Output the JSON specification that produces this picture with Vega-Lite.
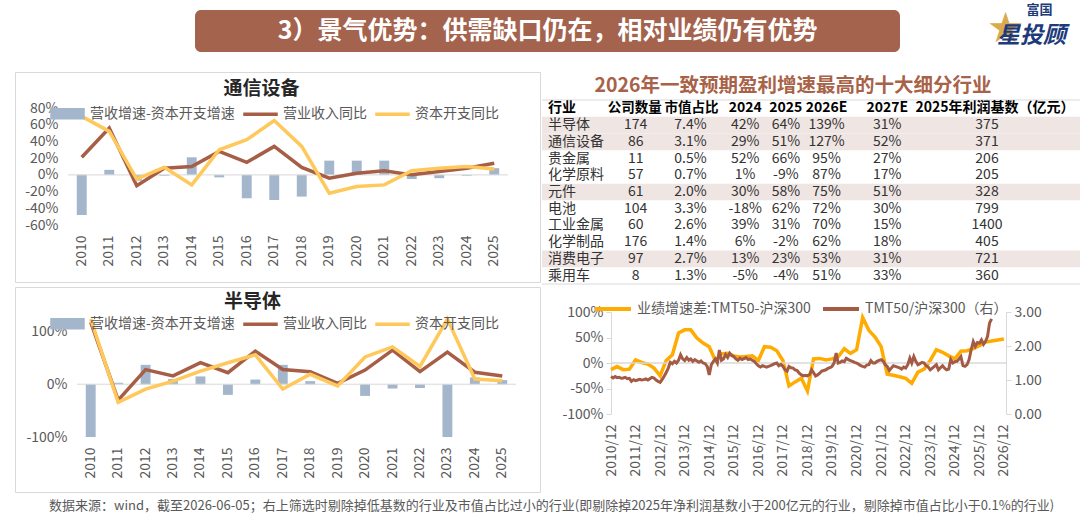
{
"$schema":"https://vega.github.io/schema/vega-lite/v6.json",
"padding":0,
"background":"white",
"spacing":0,
"resolve":{"scale":{"color":"independent"},"legend":{"color":"independent"}},
"datasets":{
"comm":[
{"year":"2010","rev":21,"capex":70,"diff":-48},
{"year":"2011","rev":56,"capex":52,"diff":6},
{"year":"2012","rev":-13,"capex":-5,"diff":-7},
{"year":"2013","rev":8,"capex":9,"diff":-1},
{"year":"2014","rev":10,"capex":-12,"diff":21},
{"year":"2015","rev":28,"capex":30,"diff":-3},
{"year":"2016","rev":15,"capex":42,"diff":-28},
{"year":"2017","rev":34,"capex":65,"diff":-30},
{"year":"2018","rev":9,"capex":34,"diff":-26},
{"year":"2019","rev":-4,"capex":-22,"diff":17},
{"year":"2020","rev":2,"capex":-14,"diff":17},
{"year":"2021","rev":5,"capex":-12,"diff":17},
{"year":"2022","rev":0,"capex":5,"diff":-5},
{"year":"2023","rev":4,"capex":8,"diff":-4},
{"year":"2024","rev":8,"capex":10,"diff":-1},
{"year":"2025","rev":14,"capex":7,"diff":8}],
"semi":[
{"year":"2010","rev":118,"capex":296,"diff":-178},
{"year":"2011","rev":-30,"capex":-34,"diff":3},
{"year":"2012","rev":28,"capex":-9,"diff":37},
{"year":"2013","rev":16,"capex":6,"diff":10},
{"year":"2014","rev":41,"capex":25,"diff":15},
{"year":"2015","rev":22,"capex":41,"diff":-20},
{"year":"2016","rev":63,"capex":56,"diff":9},
{"year":"2017","rev":28,"capex":-9,"diff":37},
{"year":"2018","rev":24,"capex":19,"diff":6},
{"year":"2019","rev":2,"capex":-3,"diff":5},
{"year":"2020","rev":27,"capex":52,"diff":-22},
{"year":"2021","rev":65,"capex":71,"diff":-8},
{"year":"2022","rev":24,"capex":34,"diff":-7},
{"year":"2023","rev":61,"capex":280,"diff":-219},
{"year":"2024","rev":23,"capex":10,"diff":13},
{"year":"2025","rev":16,"capex":7,"diff":8}],
"tbl":[
{"ind":"半导体","n":"174","mv":"7.4%","a":"42%","b":"64%","c":"139%","e":"31%","base":"375","shade":true},
{"ind":"通信设备","n":"86","mv":"3.1%","a":"29%","b":"51%","c":"127%","e":"52%","base":"371","shade":true},
{"ind":"贵金属","n":"11","mv":"0.5%","a":"52%","b":"66%","c":"95%","e":"27%","base":"206","shade":false},
{"ind":"化学原料","n":"57","mv":"0.7%","a":"1%","b":"-9%","c":"87%","e":"17%","base":"205","shade":false},
{"ind":"元件","n":"61","mv":"2.0%","a":"30%","b":"58%","c":"75%","e":"51%","base":"328","shade":true},
{"ind":"电池","n":"104","mv":"3.3%","a":"-18%","b":"62%","c":"72%","e":"30%","base":"799","shade":false},
{"ind":"工业金属","n":"60","mv":"2.6%","a":"39%","b":"31%","c":"70%","e":"15%","base":"1400","shade":false},
{"ind":"化学制品","n":"176","mv":"1.4%","a":"6%","b":"-2%","c":"62%","e":"18%","base":"405","shade":false},
{"ind":"消费电子","n":"97","mv":"2.7%","a":"13%","b":"23%","c":"53%","e":"31%","base":"721","shade":true},
{"ind":"乘用车","n":"8","mv":"1.3%","a":"-5%","b":"-4%","c":"51%","e":"33%","base":"360","shade":false}],
"tmty":[
{"d":"2010-12-01","v":-13},{"d":"2011-03-01","v":-7},{"d":"2011-06-01","v":-13},{"d":"2011-09-01","v":-12},
{"d":"2011-12-01","v":6},{"d":"2012-03-01","v":1},{"d":"2012-06-01","v":-2},{"d":"2012-09-01","v":-10},
{"d":"2012-12-01","v":-25},{"d":"2013-03-01","v":5},{"d":"2013-06-01","v":16},{"d":"2013-09-01","v":59},
{"d":"2013-12-01","v":65},{"d":"2014-03-01","v":65},{"d":"2014-06-01","v":49},{"d":"2014-09-01","v":39},
{"d":"2014-12-01","v":32},{"d":"2015-03-01","v":5},{"d":"2015-06-01","v":18},{"d":"2015-09-01","v":19},
{"d":"2015-12-01","v":14},{"d":"2016-03-01","v":12},{"d":"2016-06-01","v":13},{"d":"2016-09-01","v":14},
{"d":"2016-12-01","v":5},{"d":"2017-03-01","v":32},{"d":"2017-06-01","v":31},{"d":"2017-09-01","v":24},
{"d":"2017-12-01","v":5},{"d":"2018-03-01","v":-45},{"d":"2018-06-01","v":-37},{"d":"2018-09-01","v":-30},
{"d":"2018-12-01","v":-55},{"d":"2019-03-01","v":8},{"d":"2019-06-01","v":9},{"d":"2019-09-01","v":6},
{"d":"2019-12-01","v":8},{"d":"2020-03-01","v":12},{"d":"2020-06-01","v":28},{"d":"2020-09-01","v":19},
{"d":"2020-12-01","v":26},{"d":"2021-03-01","v":89},{"d":"2021-06-01","v":64},{"d":"2021-09-01","v":51},
{"d":"2021-12-01","v":32},{"d":"2022-03-01","v":-22},{"d":"2022-06-01","v":-24},{"d":"2022-09-01","v":-27},
{"d":"2022-12-01","v":-30},{"d":"2023-03-01","v":-40},{"d":"2023-06-01","v":-18},{"d":"2023-09-01","v":-12},
{"d":"2023-12-01","v":5},{"d":"2024-03-01","v":26},{"d":"2024-06-01","v":21},{"d":"2024-09-01","v":14},
{"d":"2024-12-01","v":8},{"d":"2025-03-01","v":23},{"d":"2025-06-01","v":24},{"d":"2025-09-01","v":28},
{"d":"2025-12-01","v":34},{"d":"2026-03-01","v":41},{"d":"2026-06-01","v":43},{"d":"2026-09-01","v":45},
{"d":"2026-12-01","v":47}],
"tmtb":[
{"d":"2010-12-01","r":1.10},{"d":"2011-01-01","r":1.06},{"d":"2011-02-01","r":1.10},{"d":"2011-03-01","r":1.07},
{"d":"2011-04-01","r":1.08},{"d":"2011-05-01","r":1.05},{"d":"2011-06-01","r":1.06},{"d":"2011-07-01","r":1.08},
{"d":"2011-08-01","r":1.04},{"d":"2011-09-01","r":1.05},{"d":"2011-10-01","r":0.96},{"d":"2011-11-01","r":1.01},
{"d":"2011-12-01","r":0.98},{"d":"2012-01-01","r":1.00},{"d":"2012-02-01","r":1.02},{"d":"2012-03-01","r":1.00},
{"d":"2012-04-01","r":1.01},{"d":"2012-05-01","r":1.03},{"d":"2012-06-01","r":1.00},{"d":"2012-07-01","r":1.04},
{"d":"2012-08-01","r":1.08},{"d":"2012-09-01","r":1.06},{"d":"2012-10-01","r":1.00},{"d":"2012-11-01","r":0.96},
{"d":"2012-12-01","r":0.93},{"d":"2013-01-01","r":1.02},{"d":"2013-02-01","r":1.12},{"d":"2013-03-01","r":1.22},
{"d":"2013-04-01","r":1.35},{"d":"2013-05-01","r":1.52},{"d":"2013-06-01","r":1.48},{"d":"2013-07-01","r":1.55},
{"d":"2013-08-01","r":1.50},{"d":"2013-09-01","r":1.58},{"d":"2013-10-01","r":1.74},{"d":"2013-11-01","r":1.62},
{"d":"2013-12-01","r":1.57},{"d":"2014-01-01","r":1.66},{"d":"2014-02-01","r":1.58},{"d":"2014-03-01","r":1.62},
{"d":"2014-04-01","r":1.55},{"d":"2014-05-01","r":1.60},{"d":"2014-06-01","r":1.56},{"d":"2014-07-01","r":1.52},
{"d":"2014-08-01","r":1.56},{"d":"2014-09-01","r":1.50},{"d":"2014-10-01","r":1.48},{"d":"2014-11-01","r":1.40},
{"d":"2014-12-01","r":1.15},{"d":"2015-01-01","r":1.45},{"d":"2015-02-01","r":1.55},{"d":"2015-03-01","r":1.62},
{"d":"2015-04-01","r":1.50},{"d":"2015-05-01","r":1.88},{"d":"2015-06-01","r":1.58},{"d":"2015-07-01","r":1.62},
{"d":"2015-08-01","r":1.75},{"d":"2015-09-01","r":1.66},{"d":"2015-10-01","r":1.79},{"d":"2015-11-01","r":1.72},
{"d":"2015-12-01","r":1.69},{"d":"2016-01-01","r":1.62},{"d":"2016-02-01","r":1.58},{"d":"2016-03-01","r":1.64},
{"d":"2016-04-01","r":1.60},{"d":"2016-05-01","r":1.63},{"d":"2016-06-01","r":1.66},{"d":"2016-07-01","r":1.60},
{"d":"2016-08-01","r":1.62},{"d":"2016-09-01","r":1.58},{"d":"2016-10-01","r":1.55},{"d":"2016-11-01","r":1.48},
{"d":"2016-12-01","r":1.42},{"d":"2017-01-01","r":1.38},{"d":"2017-02-01","r":1.42},{"d":"2017-03-01","r":1.40},
{"d":"2017-04-01","r":1.38},{"d":"2017-05-01","r":1.40},{"d":"2017-06-01","r":1.42},{"d":"2017-07-01","r":1.45},
{"d":"2017-08-01","r":1.48},{"d":"2017-09-01","r":1.50},{"d":"2017-10-01","r":1.42},{"d":"2017-11-01","r":1.46},
{"d":"2017-12-01","r":1.40},{"d":"2018-01-01","r":1.30},{"d":"2018-02-01","r":1.26},{"d":"2018-03-01","r":1.40},
{"d":"2018-04-01","r":1.36},{"d":"2018-05-01","r":1.35},{"d":"2018-06-01","r":1.30},{"d":"2018-07-01","r":1.28},
{"d":"2018-08-01","r":1.20},{"d":"2018-09-01","r":1.15},{"d":"2018-10-01","r":1.12},{"d":"2018-11-01","r":1.14},
{"d":"2018-12-01","r":1.12},{"d":"2019-01-01","r":1.16},{"d":"2019-02-01","r":1.30},{"d":"2019-03-01","r":1.22},
{"d":"2019-04-01","r":1.12},{"d":"2019-05-01","r":1.15},{"d":"2019-06-01","r":1.20},{"d":"2019-07-01","r":1.26},
{"d":"2019-08-01","r":1.28},{"d":"2019-09-01","r":1.30},{"d":"2019-10-01","r":1.34},{"d":"2019-11-01","r":1.36},
{"d":"2019-12-01","r":1.40},{"d":"2020-01-01","r":1.50},{"d":"2020-02-01","r":1.79},{"d":"2020-03-01","r":1.50},
{"d":"2020-04-01","r":1.52},{"d":"2020-05-01","r":1.56},{"d":"2020-06-01","r":1.54},{"d":"2020-07-01","r":1.64},
{"d":"2020-08-01","r":1.60},{"d":"2020-09-01","r":1.57},{"d":"2020-10-01","r":1.55},{"d":"2020-11-01","r":1.52},
{"d":"2020-12-01","r":1.50},{"d":"2021-01-01","r":1.46},{"d":"2021-02-01","r":1.42},{"d":"2021-03-01","r":1.40},
{"d":"2021-04-01","r":1.38},{"d":"2021-05-01","r":1.44},{"d":"2021-06-01","r":1.45},{"d":"2021-07-01","r":1.57},
{"d":"2021-08-01","r":1.50},{"d":"2021-09-01","r":1.50},{"d":"2021-10-01","r":1.55},{"d":"2021-11-01","r":1.58},
{"d":"2021-12-01","r":1.60},{"d":"2022-01-01","r":1.55},{"d":"2022-02-01","r":1.45},{"d":"2022-03-01","r":1.40},
{"d":"2022-04-01","r":1.28},{"d":"2022-05-01","r":1.35},{"d":"2022-06-01","r":1.42},{"d":"2022-07-01","r":1.40},
{"d":"2022-08-01","r":1.38},{"d":"2022-09-01","r":1.36},{"d":"2022-10-01","r":1.32},{"d":"2022-11-01","r":1.38},
{"d":"2022-12-01","r":1.35},{"d":"2023-01-01","r":1.45},{"d":"2023-02-01","r":1.64},{"d":"2023-03-01","r":1.50},
{"d":"2023-04-01","r":1.69},{"d":"2023-05-01","r":1.55},{"d":"2023-06-01","r":1.45},{"d":"2023-07-01","r":1.48},
{"d":"2023-08-01","r":1.52},{"d":"2023-09-01","r":1.50},{"d":"2023-10-01","r":1.42},{"d":"2023-11-01","r":1.38},
{"d":"2023-12-01","r":1.30},{"d":"2024-01-01","r":1.35},{"d":"2024-02-01","r":1.40},{"d":"2024-03-01","r":1.45},
{"d":"2024-04-01","r":1.30},{"d":"2024-05-01","r":1.36},{"d":"2024-06-01","r":1.42},{"d":"2024-07-01","r":1.35},
{"d":"2024-08-01","r":1.30},{"d":"2024-09-01","r":1.32},{"d":"2024-10-01","r":1.60},{"d":"2024-11-01","r":1.50},
{"d":"2024-12-01","r":1.54},{"d":"2025-01-01","r":1.55},{"d":"2025-02-01","r":1.62},{"d":"2025-03-01","r":1.69},
{"d":"2025-04-01","r":1.42},{"d":"2025-05-01","r":1.40},{"d":"2025-06-01","r":1.45},{"d":"2025-07-01","r":1.60},
{"d":"2025-08-01","r":1.89},{"d":"2025-09-01","r":2.13},{"d":"2025-10-01","r":1.99},{"d":"2025-11-01","r":2.10},
{"d":"2025-12-01","r":2.08},{"d":"2026-01-01","r":2.18},{"d":"2026-02-01","r":2.05},{"d":"2026-03-01","r":2.13},
{"d":"2026-04-01","r":2.28},{"d":"2026-05-01","r":2.67},{"d":"2026-06-01","r":2.80}]
},
"vconcat":[
{"hconcat":[
  {"width":195,"height":52,"data":{"values":[]},"mark":"point"},
  {"vconcat":[
    {"width":705,"height":10,"data":{"values":[]},"mark":"point"},
    {"width":705,"height":42,"view":{"fill":"#a4634d","cornerRadius":6,"stroke":null},
     "data":{"values":[{"t":"3）景气优势：供需缺口仍在，相对业绩仍有优势"}]},
     "mark":{"type":"text","color":"white","fontSize":25,"fontWeight":"bold"},
     "encoding":{"text":{"field":"t"}}}
  ],"spacing":0},
  {"width":85,"height":52,"data":{"values":[]},"mark":"point"},
  {"width":85,"height":52,
   "layer":[
    {"data":{"values":[{"t":"★"}]},"mark":{"type":"text","font":"DejaVu Sans","fontSize":42,"color":"#d8ab4e","dx":-22,"dy":3},"encoding":{"text":{"field":"t"}}},
    {"data":{"values":[{"t":"富国"}]},"mark":{"type":"text","fontSize":13,"fontWeight":"bold","color":"#1d3a7a","dx":12,"dy":-16},"encoding":{"text":{"field":"t"}}},
    {"data":{"values":[{"t":"星投顾"}]},"mark":{"type":"text","fontSize":23,"fontWeight":"bold","fontStyle":"italic","color":"#1d3a7a","dx":4,"dy":10},"encoding":{"text":{"field":"t"}}}
   ]}
 ],"spacing":0},
{"width":1,"height":19,"data":{"values":[]},"mark":"point"},
{"hconcat":[
  {"width":14,"height":1,"data":{"values":[]},"mark":"point"},
  {"width":525,"height":210,"view":{"stroke":"#d9d9d9","strokeWidth":1},"data":{"name":"comm"},
   "title":{"text":"通信设备","frame":"group","anchor":"middle","dx":-16,"offset":-27,"fontSize":19,"fontWeight":"bold","color":"#262626"},
   "encoding":{"x":{"field":"year","type":"ordinal","scale":{"range":[53,493],"paddingInner":0,"paddingOuter":0},"axis":{"labelAngle":-90,"domain":false,"ticks":false,"labelPadding":10,"title":null,"offset":-57,"labelOverlap":false}}},
   "layer":[
    {"mark":{"type":"bar","width":{"band":0.36}},
     "encoding":{"y":{"field":"diff","type":"quantitative","scale":{"domain":[-60,80],"range":[153,36],"nice":false,"zero":false},"axis":{"orient":"left","values":[-60,-20,20,60],"labelExpr":"datum.value + '%'","domain":false,"ticks":false,"labelPadding":10,"title":null,"offset":-53}},
     "color":{"datum":"营收增速-资本开支增速","type":"nominal","scale":{"domain":["营收增速-资本开支增速","营业收入同比","资本开支同比"],"range":["#a3b6cc","#a65e46","#ffc85a"]},
      "legend":{"orient":"none","legendX":35,"legendY":24,"direction":"horizontal","columns":3,"title":null,"symbolSize":1089,"labelOffset":5,"columnPadding":6,"padding":0,
       "encode":{"symbols":{"update":{"shape":{"signal":"datum.value === '营收增速-资本开支增速' ? 'M-1,-0.3H1V0.3H-1Z' : 'M-1,-0.065H1V0.065H-1Z'"},"fill":{"signal":"datum.value === '营收增速-资本开支增速' ? '#a3b6cc' : datum.value === '营业收入同比' ? '#a65e46' : '#ffc85a'"},"stroke":{"value":"transparent"},"opacity":{"value":1}}}}}}}},
    {"mark":{"type":"tick","color":"#d9d9d9","thickness":1.5},"encoding":{"y":{"datum":0,"type":"quantitative","axis":null}}},
    {"mark":{"type":"line","strokeWidth":3.5},"encoding":{"y":{"field":"rev","type":"quantitative","axis":{"orient":"left","values":[-40,0,40,80],"labelExpr":"datum.value + '%'","domain":false,"ticks":false,"labelPadding":10,"title":null,"offset":-53}},"color":{"datum":"营业收入同比","type":"nominal"}}},
    {"mark":{"type":"line","strokeWidth":3.5},"encoding":{"y":{"field":"capex","type":"quantitative","axis":null},"color":{"datum":"资本开支同比","type":"nominal"}}}
   ],
   "resolve":{"axis":{"y":"independent"}}},
  {"width":538,"height":214,"data":{"name":"tbl"},
   "title":{"text":"2026年一致预期盈利增速最高的十大细分行业","frame":"group","anchor":"middle","dx":-18,"offset":-24,"fontSize":19.5,"fontWeight":"bold","color":"#a86248"},
   "layer":[
    {"transform":[{"filter":"datum.shade"}],"mark":{"type":"rect","color":"#efe5e3"},"encoding":{"y":{"field":"ind","type":"nominal","scale":{"domain":["行业","半导体","通信设备","贵金属","化学原料","元件","电池","工业金属","化学制品","消费电子","乘用车"],"range":[28,212],"paddingInner":0,"paddingOuter":0},"axis":null}}},
    {"data":{"values":[{}]},"mark":{"type":"rule","color":"#d9d9d9"},"encoding":{"y":{"datum":"行业","type":"nominal","bandPosition":0}}},
    {"data":{"values":[{}]},"mark":{"type":"rule","color":"#d9d9d9"},"encoding":{"y":{"datum":"乘用车","type":"nominal","bandPosition":1}}},
    {"mark":{"type":"text","fontSize":14,"color":"#333333","align":"left"},"encoding":{"x":{"datum":"行业","type":"nominal","scale":{"type":"point","domain":["行业","公司数量","市值占比","2024","2025","2026E","2027E","2025年利润基数（亿元）"],"range":[6,445],"padding":0},"axis":null},"y":{"field":"ind","type":"nominal"},"text":{"field":"ind"}}},
    {"data":{"values":[{"h":"行业"}]},"mark":{"type":"text","fontSize":14,"fontWeight":"bold","color":"#000000","align":"left"},"encoding":{"x":{"datum":"行业","type":"nominal"},"y":{"datum":"行业","type":"nominal"},"text":{"field":"h"}}},
    {"mark":{"type":"text","fontSize":14,"color":"#333333","dx":25},"encoding":{"x":{"datum":"公司数量","type":"nominal"},"y":{"field":"ind","type":"nominal"},"text":{"field":"n"}}},
    {"data":{"values":[{"h":"公司数量"}]},"mark":{"type":"text","fontSize":13.5,"fontWeight":"bold","color":"#000000","dx":24},"encoding":{"x":{"datum":"公司数量","type":"nominal"},"y":{"datum":"行业","type":"nominal"},"text":{"field":"h"}}},
    {"mark":{"type":"text","fontSize":14,"color":"#333333","dx":17},"encoding":{"x":{"datum":"市值占比","type":"nominal"},"y":{"field":"ind","type":"nominal"},"text":{"field":"mv"}}},
    {"data":{"values":[{"h":"市值占比"}]},"mark":{"type":"text","fontSize":13.5,"fontWeight":"bold","color":"#000000","dx":18},"encoding":{"x":{"datum":"市值占比","type":"nominal"},"y":{"datum":"行业","type":"nominal"},"text":{"field":"h"}}},
    {"mark":{"type":"text","fontSize":14,"color":"#333333","dx":9},"encoding":{"x":{"datum":"2024","type":"nominal"},"y":{"field":"ind","type":"nominal"},"text":{"field":"a"}}},
    {"data":{"values":[{"h":"2024"}]},"mark":{"type":"text","fontSize":14,"fontWeight":"bold","color":"#000000","dx":9},"encoding":{"x":{"datum":"2024","type":"nominal"},"y":{"datum":"行业","type":"nominal"},"text":{"field":"h"}}},
    {"mark":{"type":"text","fontSize":14,"color":"#333333","dx":-13},"encoding":{"x":{"datum":"2025","type":"nominal"},"y":{"field":"ind","type":"nominal"},"text":{"field":"b"}}},
    {"data":{"values":[{"h":"2025"}]},"mark":{"type":"text","fontSize":14,"fontWeight":"bold","color":"#000000","dx":-13},"encoding":{"x":{"datum":"2025","type":"nominal"},"y":{"datum":"行业","type":"nominal"},"text":{"field":"h"}}},
    {"mark":{"type":"text","fontSize":14,"color":"#333333","dx":-35},"encoding":{"x":{"datum":"2026E","type":"nominal"},"y":{"field":"ind","type":"nominal"},"text":{"field":"c"}}},
    {"data":{"values":[{"h":"2026E"}]},"mark":{"type":"text","fontSize":14,"fontWeight":"bold","color":"#000000","dx":-35},"encoding":{"x":{"datum":"2026E","type":"nominal"},"y":{"datum":"行业","type":"nominal"},"text":{"field":"h"}}},
    {"mark":{"type":"text","fontSize":14,"color":"#333333","dx":-37},"encoding":{"x":{"datum":"2027E","type":"nominal"},"y":{"field":"ind","type":"nominal"},"text":{"field":"e"}}},
    {"data":{"values":[{"h":"2027E"}]},"mark":{"type":"text","fontSize":14,"fontWeight":"bold","color":"#000000","dx":-37},"encoding":{"x":{"datum":"2027E","type":"nominal"},"y":{"datum":"行业","type":"nominal"},"text":{"field":"h"}}},
    {"mark":{"type":"text","fontSize":14,"color":"#333333"},"encoding":{"x":{"datum":"2025年利润基数（亿元）","type":"nominal"},"y":{"field":"ind","type":"nominal"},"text":{"field":"base"}}},
    {"data":{"values":[{"h":"2025年利润基数（亿元）"}]},"mark":{"type":"text","fontSize":14,"fontWeight":"bold","color":"#000000","dx":8},"encoding":{"x":{"datum":"2025年利润基数（亿元）","type":"nominal"},"y":{"datum":"行业","type":"nominal"},"text":{"field":"h"}}}
   ]}
 ],"spacing":0,"resolve":{"scale":{"color":"independent"},"legend":{"color":"independent"}}},
{"hconcat":[
  {"width":14,"height":1,"data":{"values":[]},"mark":"point"},
  {"width":525,"height":205,"view":{"stroke":"#d9d9d9","strokeWidth":1},"data":{"name":"semi"},
   "title":{"text":"半导体","frame":"group","anchor":"middle","dx":-25,"offset":-25,"fontSize":19,"fontWeight":"bold","color":"#262626"},
   "encoding":{"x":{"field":"year","type":"ordinal","scale":{"range":[62,501],"paddingInner":0,"paddingOuter":0},"axis":{"labelAngle":-90,"domain":false,"ticks":false,"labelPadding":10,"title":null,"offset":-55,"labelOverlap":false}}},
   "layer":[
    {"mark":{"type":"bar","width":{"band":0.36}},
     "encoding":{"y":{"field":"diff","type":"quantitative","scale":{"domain":[-100,124],"range":[150,32],"nice":false,"zero":false,"clamp":true},"axis":{"values":[-100,0,100],"labelExpr":"datum.value + '%'","domain":false,"ticks":false,"labelPadding":10,"title":null,"offset":-62,"labelOverlap":false}},
     "color":{"datum":"营收增速-资本开支增速","type":"nominal","scale":{"domain":["营收增速-资本开支增速","营业收入同比","资本开支同比"],"range":["#a3b6cc","#a65e46","#ffc85a"]},
      "legend":{"orient":"none","legendX":35,"legendY":19,"direction":"horizontal","columns":3,"title":null,"symbolSize":1089,"labelOffset":5,"columnPadding":6,"padding":0,
       "encode":{"symbols":{"update":{"shape":{"signal":"datum.value === '营收增速-资本开支增速' ? 'M-1,-0.3H1V0.3H-1Z' : 'M-1,-0.065H1V0.065H-1Z'"},"fill":{"signal":"datum.value === '营收增速-资本开支增速' ? '#a3b6cc' : datum.value === '营业收入同比' ? '#a65e46' : '#ffc85a'"},"stroke":{"value":"transparent"},"opacity":{"value":1}}}}}}}},
    {"mark":{"type":"tick","color":"#d9d9d9","thickness":1.5},"encoding":{"y":{"datum":0,"type":"quantitative"}}},
    {"mark":{"type":"line","strokeWidth":3.5},"encoding":{"y":{"field":"rev","type":"quantitative"},"color":{"datum":"营业收入同比","type":"nominal"}}},
    {"mark":{"type":"line","strokeWidth":3.5},"encoding":{"y":{"field":"capex","type":"quantitative"},"color":{"datum":"资本开支同比","type":"nominal"}}}
   ]},
  {"width":538,"height":205,
   "layer":[
    {"data":{"name":"tmty"},"mark":{"type":"line","strokeWidth":3.5},
     "encoding":{
      "x":{"field":"d","type":"temporal","scale":{"type":"utc","domain":[{"year":2010,"month":12,"date":1,"utc":true},{"year":2027,"month":1,"date":1,"utc":true}],"range":[70,465]},
       "axis":{"orient":"bottom","values":[{"year":2010,"month":12,"date":1,"utc":true},{"year":2012,"month":12,"date":1,"utc":true},{"year":2014,"month":12,"date":1,"utc":true},{"year":2016,"month":12,"date":1,"utc":true},{"year":2018,"month":12,"date":1,"utc":true},{"year":2020,"month":12,"date":1,"utc":true},{"year":2022,"month":12,"date":1,"utc":true},{"year":2024,"month":12,"date":1,"utc":true},{"year":2026,"month":12,"date":1,"utc":true}],
        "labelExpr":"utcFormat(datum.value, '%Y/%m')","labelAngle":-90,"domain":false,"ticks":false,"labelPadding":10,"title":null,"offset":-78}},
      "y":{"field":"v","type":"quantitative","scale":{"domain":[-100,100],"range":[127,25],"nice":false},"axis":{"orient":"left","values":[-100,-50,0,50,100],"labelExpr":"datum.value + '%'","domain":true,"domainColor":"#d9d9d9","ticks":true,"tickColor":"#d9d9d9","tickSize":5,"labelPadding":3,"title":null,"offset":-70}},
      "color":{"datum":"业绩增速差:TMT50-沪深300","type":"nominal","scale":{"domain":["业绩增速差:TMT50-沪深300","TMT50/沪深300（右）"],"range":["#ffab00","#a35b46"]},
       "legend":{"orient":"none","legendX":52,"legendY":2,"direction":"horizontal","columns":2,"title":null,"symbolType":"stroke","symbolSize":1296,"symbolStrokeWidth":4,"labelOffset":4,"columnPadding":4,"padding":0}}}},
    {"data":{"values":[{}]},"mark":{"type":"rule","color":"#d9d9d9","strokeWidth":1.5},
     "encoding":{"x":{"datum":{"year":2010,"month":12,"date":1,"utc":true},"type":"temporal","axis":null},"x2":{"datum":{"year":2027,"month":1,"date":1,"utc":true}},
      "y":{"datum":0,"type":"quantitative","scale":{"domain":[-100,100],"range":[127,25],"nice":false},"axis":null}}},
    {"data":{"name":"tmtb"},"mark":{"type":"line","strokeWidth":3},
     "encoding":{
      "x":{"field":"d","type":"temporal",
       "axis":{"orient":"bottom","values":[{"year":2011,"month":12,"date":1,"utc":true},{"year":2013,"month":12,"date":1,"utc":true},{"year":2015,"month":12,"date":1,"utc":true},{"year":2017,"month":12,"date":1,"utc":true},{"year":2019,"month":12,"date":1,"utc":true},{"year":2021,"month":12,"date":1,"utc":true},{"year":2023,"month":12,"date":1,"utc":true},{"year":2025,"month":12,"date":1,"utc":true}],
        "labelExpr":"utcFormat(datum.value, '%Y/%m')","labelAngle":-90,"domain":false,"ticks":false,"labelPadding":10,"title":null,"offset":-78}},
      "y":{"field":"r","type":"quantitative","scale":{"domain":[0,3],"range":[127,25],"nice":false},"axis":{"orient":"right","values":[0,1,2,3],"format":".2f","domain":true,"domainColor":"#d9d9d9","ticks":true,"tickColor":"#d9d9d9","tickSize":5,"labelPadding":3,"title":null,"offset":-73}},
      "color":{"datum":"TMT50/沪深300（右）","type":"nominal"}}}
   ],
   "resolve":{"scale":{"y":"independent"},"axis":{"x":"independent"}}}
 ],"spacing":0,"resolve":{"scale":{"color":"independent"},"legend":{"color":"independent"}}},
{"hconcat":[
  {"width":48,"height":26,"data":{"values":[]},"mark":"point"},
  {"width":2,"height":26,"data":{"values":[{"t":"数据来源：wind，截至2026-06-05；右上筛选时剔除掉低基数的行业及市值占比过小的行业(即剔除掉2025年净利润基数小于200亿元的行业，剔除掉市值占比小于0.1%的行业)"}]},
   "mark":{"type":"text","align":"left","fontSize":13,"color":"#595959"},"encoding":{"text":{"field":"t"}}}
 ],"spacing":0}
],
"config":{
 "view":{"stroke":null},
 "concat":{"spacing":0},
 "font":"Noto Sans CJK SC",
 "tick":{"bandSize":28},
 "axis":{"labelColor":"#595959","labelFontSize":14,"grid":false,"labelFont":"Noto Sans CJK SC"},
 "legend":{"labelColor":"#595959","labelFontSize":14,"labelLimit":400,"labelFont":"Noto Sans CJK SC"},
 "title":{"font":"Noto Sans CJK SC"},
 "text":{"font":"Noto Sans CJK SC"}
}
}
